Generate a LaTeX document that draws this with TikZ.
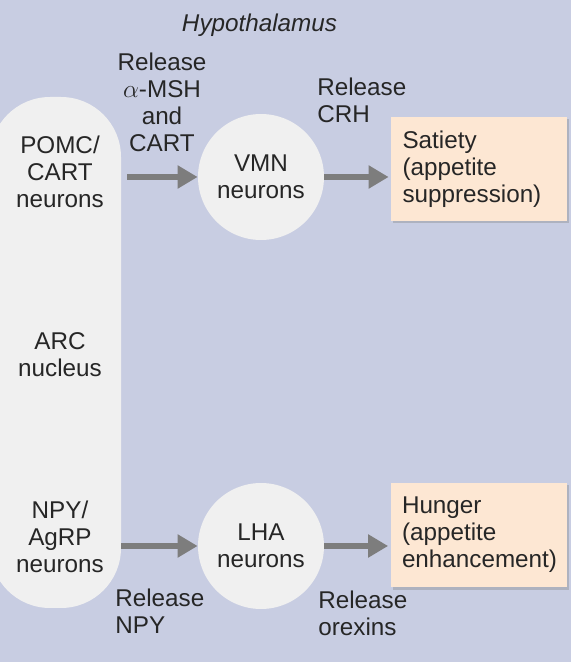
\documentclass[tikz,border=0pt]{standalone}
\usepackage{fontspec}
\setmainfont{Liberation Sans}
\usetikzlibrary{arrows.meta,shadows}

\definecolor{bgblue}{RGB}{200,205,226}
\definecolor{cellwhite}{RGB}{240,240,240}
\definecolor{peach}{RGB}{253,231,211}
\definecolor{flowgray}{RGB}{125,125,125}

\tikzset{
  txt/.style={font=\fontsize{13.8}{15.4}\selectfont, inner sep=0pt, text=black!85},
  arcbox/.style={fill=cellwhite, rounded corners=1.2cm, minimum width=2.62cm, minimum height=10.22cm},
  cell/.style={circle, fill=cellwhite, minimum size=2.52cm, inner sep=0pt, txt, align=center},
  effect/.style={fill=peach, txt, align=left, text width=3.06cm, inner xsep=0.23cm,
    minimum height=2.08cm, drop shadow={shadow xshift=0.04cm, shadow yshift=-0.05cm, opacity=0.35}},
  flow/.style={->, draw=flowgray, line width=0.12cm}
}

\begin{document}
\begin{tikzpicture}[>={Triangle[length=0.4cm,width=0.44cm]}]
  \useasboundingbox (0,0) rectangle (11.42,13.24);
  \clip (0,0) rectangle (11.42,13.24);
  \fill [bgblue] (0,0) rectangle (11.42,13.24);

  % title
  \node [txt, font=\fontsize{13.8}{15.4}\selectfont\itshape] (title) at (5.19,12.74) {Hypothalamus};

  % arcuate nucleus
  \node [arcbox] (arc) at (1.11,6.19) {};
  \node [txt, align=center] (pomc) at (1.2,9.80) {POMC/\\CART\\neurons};
  \node [txt, align=center] (arcname) at (1.2,6.14) {ARC\\nucleus};
  \node [txt, align=center] (npy) at (1.2,2.50) {NPY/\\AgRP\\neurons};

  % second order neurons
  \node [cell] (vmn) at (5.22,9.70) {VMN\\neurons};
  \node [cell] (lha) at (5.22,2.32) {LHA\\neurons};

  % outcomes
  \node [effect] (satiety) at (9.58,9.86) {Satiety\\(appetite\\suppression)};
  \node [effect] (hunger) at (9.57,2.54) {Hunger\\(appetite\\enhancement)};

  % connectors
  \draw [flow, shorten <=0.12cm] (arc.east |- vmn.west) -- (vmn.west);
  \draw [flow, shorten >=0.04cm] (vmn.east) -- (satiety.west |- vmn.east);
  \draw [flow] (arc.east |- lha.west) -- (lha.west);
  \draw [flow, shorten >=0.04cm] (lha.east) -- (hunger.west |- lha.east);

  % released substances
  \node [txt, align=center] (relmsh) at (3.24,11.20) {Release\\$\alpha$-MSH\\and\\CART};
  \node [txt, align=left, anchor=west] (relcrh) at (6.34,11.24) {Release\\CRH};
  \node [txt, align=left, anchor=west] (relnpy) at (2.30,1.02) {Release\\NPY};
  \node [txt, align=left, anchor=west] (relorex) at (6.36,0.98) {Release\\orexins};
\end{tikzpicture}
\end{document}
